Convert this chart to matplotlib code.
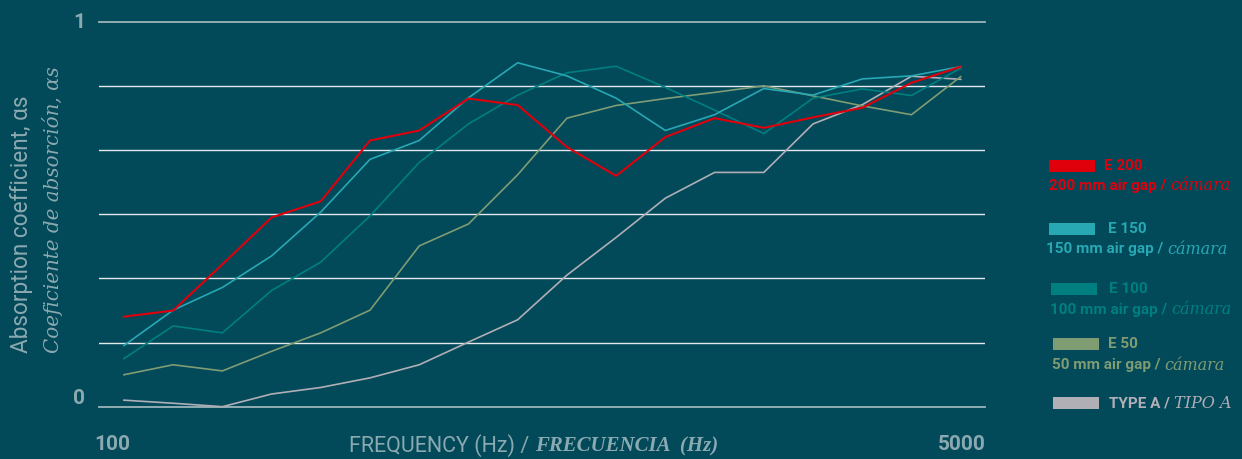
import numpy as np
import matplotlib
matplotlib.use("Agg")
import matplotlib.pyplot as plt
from matplotlib.patches import Rectangle

# --- data ---------------------------------------------------------------
freqs = ["100", "125", "160", "200", "250", "315", "400", "500", "630", "800",
         "1000", "1250", "1600", "2000", "2500", "3150", "4000", "5000"]

e200 = [0.234, 0.250, 0.370, 0.492, 0.534, 0.692, 0.718, 0.801, 0.784, 0.675,
        0.600, 0.701, 0.750, 0.725, 0.752, 0.777, 0.842, 0.884]
e150 = [0.159, 0.251, 0.310, 0.392, 0.506, 0.643, 0.692, 0.803, 0.894, 0.860,
        0.802, 0.718, 0.759, 0.827, 0.810, 0.852, 0.860, 0.884]
e100 = [0.125, 0.210, 0.192, 0.302, 0.376, 0.496, 0.635, 0.735, 0.810, 0.868,
        0.885, 0.830, 0.771, 0.710, 0.802, 0.826, 0.809, 0.880]
e50 = [0.083, 0.109, 0.093, 0.144, 0.192, 0.251, 0.418, 0.475, 0.603, 0.750,
       0.783, 0.801, 0.817, 0.834, 0.808, 0.782, 0.759, 0.858]
typeA = [0.017, 0.009, 0.0, 0.033, 0.050, 0.075, 0.109, 0.168, 0.226, 0.342,
         0.440, 0.542, 0.609, 0.609, 0.735, 0.785, 0.859, 0.851]

names = ["E 200", "E 150", "E 100", "E 50", "TYPE A / "]
subs = ["200 mm air gap / ", "150 mm air gap / ", "100 mm air gap / ", "50 mm air gap / ", None]
subs_it = ["cámara", "cámara", "cámara", "cámara", "TIPO A"]
colors = ["#e0000b", "#27a8b3", "#007f80", "#7f9c73", "#b0afb6"]
series = [e200, e150, e100, e50, typeA]

BG = "#02495a"
TXT = "#8ba9b0"
SANS = "Roboto"
SERIF = "DejaVu Serif"
SERIF2 = "Liberation Serif"

W, H = 1242, 459
fig = plt.figure(figsize=(W / 100, H / 100), dpi=100, facecolor=BG)

# axes placed in pixel terms
x0, x1, ytop, ybot = 99.3, 985.3, 22.0, 406.7
ax = fig.add_axes([x0 / W, 1 - ybot / H, (x1 - x0) / W, (ybot - ytop) / H])
ax.set_facecolor(BG)
ax.set_xlim(-0.5, 17.5)
ax.set_ylim(0, 1)
for s in ax.spines.values():
    s.set_visible(False)
ax.set_xticks([])
ax.set_yticks([])

grid = np.arange(7) / 6.0
for g in grid:
    if g in (0, 1):
        ax.axhline(g, color="#9db4ba", lw=1.3, zorder=1, clip_on=False)
    else:
        ax.axhline(g, color="#e4eaec", lw=1.0, zorder=1)

x = np.arange(len(freqs))
lws = [1.5, 1.2, 1.2, 1.2, 1.2]
for i in range(len(series) - 1, -1, -1):
    ax.plot(x, series[i], color=colors[i], lw=lws[i], zorder=3 + (5 - i), clip_on=False)

fig.canvas.draw()
rend = fig.canvas.get_renderer()


def px(xp, yp):
    return xp / W, 1 - yp / H


def put_pair(xp, yp, t1, t2, color, size, weight="normal", size2=None, weight2="normal", fam2=SERIF):
    a = fig.text(*px(xp, yp), t1, color=color, fontsize=size, family=SANS,
                 weight=weight, ha="left", va="center")
    bb = a.get_window_extent(rend)
    fig.text(bb.x1 / W, 1 - yp / H, t2, color=color, fontsize=size2 or size,
             family=fam2, style="italic", weight=weight2, ha="left", va="center")


# tick labels
fig.text(*px(79, 22), "1", color=TXT, fontsize=15, family=SANS, weight="bold", ha="center", va="center")
fig.text(*px(79, 398), "0", color=TXT, fontsize=15, family=SANS, weight="bold", ha="center", va="center")
fig.text(*px(112, 445), freqs[0], color=TXT, fontsize=15, family=SANS, weight="bold", ha="center", va="center")
fig.text(*px(962, 445), freqs[-1], color=TXT, fontsize=15, family=SANS, weight="bold", ha="center", va="center")

# axis titles
put_pair(349, 446, "FREQUENCY (Hz) / ", "FRECUENCIA  (Hz)", TXT, 15.5, size2=15,
         weight2="bold", fam2=SERIF2)
fig.text(*px(22, 353), "Absorption coefficient, αs", color=TXT, fontsize=16.3, family=SANS,
         rotation=90, ha="center", va="bottom")
fig.text(*px(53, 353), "Coeficiente de absorción, αs", color=TXT, fontsize=14.3, family=SERIF,
         style="italic", rotation=90, ha="center", va="bottom")

# legend
rect_x = [1049, 1049, 1051, 1053, 1053]
rect_y = [165.5, 229, 289, 344, 403]
name_x = [1104, 1108, 1109, 1108, 1109]
sub_x = [1049, 1046, 1050, 1052]
sub_y = [185.7, 249.3, 310, 365]
for i in range(5):
    fig.patches.append(Rectangle(px(rect_x[i], rect_y[i] + 6), 46 / W, 12 / H,
                                 transform=fig.transFigure, facecolor=colors[i], edgecolor="none"))
    if subs[i] is None:
        put_pair(name_x[i], rect_y[i], names[i], subs_it[i], colors[i], 11, weight="bold", size2=11.5)
    else:
        fig.text(*px(name_x[i], rect_y[i]), names[i], color=colors[i], fontsize=11, family=SANS,
                 weight="bold", ha="left", va="center")
        put_pair(sub_x[i], sub_y[i], subs[i], subs_it[i], colors[i], 11, weight="bold", size2=11.5)

fig.savefig("out.png", dpi=100, facecolor=BG)
